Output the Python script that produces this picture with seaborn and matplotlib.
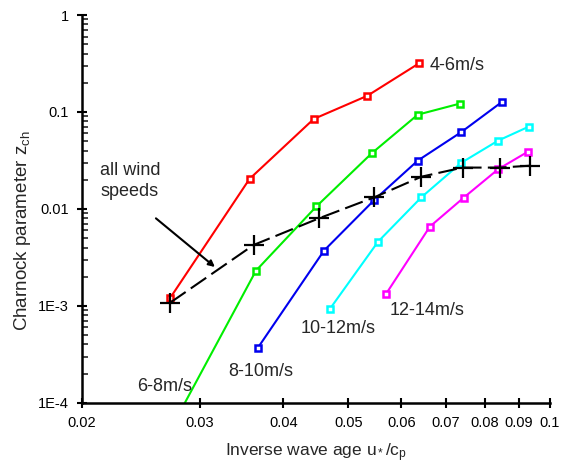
import numpy as np
import pandas as pd
import matplotlib
matplotlib.use("Agg")
import matplotlib.pyplot as plt
import matplotlib.ticker as mticker
import seaborn as sns

# -------------------------------
# Data
# -------------------------------

x_4_6 = [0.0271, 0.0356, 0.0444, 0.0534, 0.0638]
z_4_6 = [0.00121, 0.0204, 0.0847, 0.147, 0.318]

x_6_8 = [0.0270, 0.0364, 0.0448, 0.0542, 0.0635, 0.0734]
z_6_8 = [0.00005, 0.00231, 0.0106, 0.0375, 0.0938, 0.122]

x_8_10 = [0.0366, 0.0460, 0.0547, 0.0635, 0.0737, 0.0847]
z_8_10 = [0.000366, 0.00372, 0.0124, 0.0315, 0.0618, 0.126]

x_10_12 = [0.0469, 0.0554, 0.0643, 0.0738, 0.0837, 0.0930]
z_10_12 = [0.000924, 0.0046, 0.0132, 0.030, 0.0506, 0.0705]

x_12_14 = [0.0569, 0.0662, 0.0744, 0.0838, 0.0928]
z_12_14 = [0.00132, 0.00657, 0.0131, 0.0258, 0.039]

x_all = [0.0271, 0.0361, 0.0452, 0.0547, 0.0643, 0.0741, 0.0842, 0.0933]
z_all = [0.00108, 0.00425, 0.0080, 0.0132, 0.0215, 0.0267, 0.0267, 0.0279]

series_names = ["4-6m/s", "6-8m/s", "8-10m/s", "10-12m/s", "12-14m/s"]
series_colors = ["#ff0000", "#00ee00", "#0000ee", "#00ffff", "#ff00ff"]

x_ticks = [0.02, 0.03, 0.04, 0.05, 0.06, 0.07, 0.08, 0.09, 0.1]
x_tick_labels = ["0.02", "0.03", "0.04", "0.05", "0.06", "0.07", "0.08", "0.09", "0.1"]
y_ticks = [1e-4, 1e-3, 1e-2, 1e-1, 1]
y_tick_labels = ["1E-4", "1E-3", "0.01", "0.1", "1"]

# -------------------------------
# Style
# -------------------------------

sns.set_style("ticks")
plt.rcParams["font.family"] = ["Liberation Sans", "DejaVu Sans"]
plt.rcParams["mathtext.fontset"] = "custom"
plt.rcParams["mathtext.rm"] = "Liberation Sans"
plt.rcParams["mathtext.it"] = "Liberation Sans"

fig = plt.figure(figsize=(5.61, 4.69), dpi=100)
ax = fig.add_axes([0.146, 0.141, 0.834, 0.827])

# -------------------------------
# Coloured wind speed classes
# -------------------------------

xs = [x_4_6, x_6_8, x_8_10, x_10_12, x_12_14]
zs = [z_4_6, z_6_8, z_8_10, z_10_12, z_12_14]

for name, color, xv, zv in zip(series_names, series_colors, xs, zs):
    df = pd.DataFrame({"x": xv, "z": zv})
    sns.lineplot(
        data=df, x="x", y="z", ax=ax,
        color=color, linewidth=1.5, sort=False, estimator=None,
        marker="s", markersize=4.5, markerfacecolor="white",
        markeredgecolor=color, markeredgewidth=1.8
    )

# all wind speeds
df_all = pd.DataFrame({"x": x_all, "z": z_all})
sns.lineplot(
    data=df_all, x="x", y="z", ax=ax,
    color="black", linewidth=1.5, sort=False, estimator=None,
    marker="+", markersize=15, markeredgewidth=1.6,
    markeredgecolor="black", markerfacecolor="black"
)
ax.lines[-1].set_dashes((9, 3))

# -------------------------------
# Axes
# -------------------------------

ax.set_xscale("log")
ax.set_yscale("log")
ax.set_xlim(0.02, 0.1)
ax.set_ylim(1e-4, 1)

ax.xaxis.set_major_locator(mticker.FixedLocator(x_ticks))
ax.xaxis.set_major_formatter(mticker.FixedFormatter(x_tick_labels))
ax.xaxis.set_minor_locator(mticker.NullLocator())
ax.yaxis.set_major_locator(mticker.FixedLocator(y_ticks))
ax.yaxis.set_major_formatter(mticker.FixedFormatter(y_tick_labels))
ax.yaxis.set_minor_locator(mticker.LogLocator(base=10, subs=np.arange(2, 10)))
ax.yaxis.set_minor_formatter(mticker.NullFormatter())

ax.tick_params(axis="both", which="major", direction="inout", length=7, width=1.5,
               labelsize=10.5, colors="black", pad=6)
ax.tick_params(axis="y", which="minor", direction="in", length=4, width=1.2)

sns.despine(ax=ax)
for side in ["left", "bottom"]:
    ax.spines[side].set_linewidth(1.8)
    ax.spines[side].set_color("black")

ax.set_xlabel(r"Inverse wave age u$_*$/c$_\mathrm{p}$", fontsize=12.5, labelpad=8)
ax.set_ylabel(r"Charnock parameter z$_\mathrm{ch}$", fontsize=13.5)
ax.yaxis.set_label_coords(-0.105, 0.445)

# -------------------------------
# Labels
# -------------------------------

ax.text(0.0662, 0.305, "4-6m/s", fontsize=13, va="center", ha="left")
ax.text(0.0242, 0.000146, "6-8m/s", fontsize=13, va="center", ha="left")
ax.text(0.0331, 0.000209, "8-10m/s", fontsize=13, va="center", ha="left")
ax.text(0.0424, 0.000579, "10-12m/s", fontsize=13, va="center", ha="left")
ax.text(0.0577, 0.000888, "12-14m/s", fontsize=13, va="center", ha="left")

ax.text(0.0213, 0.0194, "all wind\nspeeds", fontsize=13, va="center", ha="left",
        linespacing=1.25)
ax.annotate(
    "", xy=(0.0316, 0.00252), xytext=(0.0258, 0.0080),
    arrowprops=dict(arrowstyle="-|>", color="black", lw=1.5,
                    mutation_scale=9, shrinkA=0, shrinkB=0)
)

plt.savefig("out.png", dpi=100)
